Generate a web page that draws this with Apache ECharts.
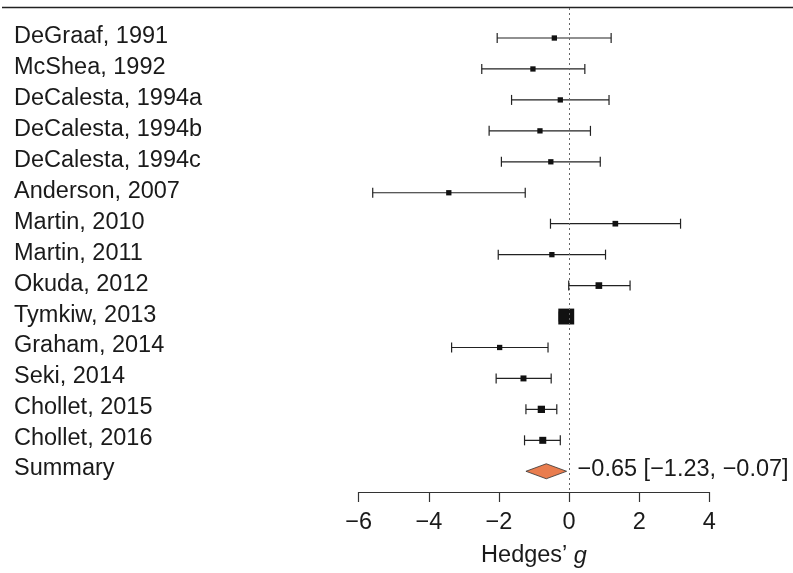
<!DOCTYPE html>
<html>
<head>
<meta charset="utf-8">
<script src="https://cdn.jsdelivr.net/npm/echarts@6/dist/echarts.min.js"></script>
<style>
  html, body { margin: 0; padding: 0; background: #fff; }
  #main { width: 793px; height: 573px; }
</style>
</head>
<body>
<div id="main"></div>
<script>
// study rows, top to bottom
const studies = ['DeGraaf, 1991', 'McShea, 1992', 'DeCalesta, 1994a', 'DeCalesta, 1994b', 'DeCalesta, 1994c',
  'Anderson, 2007', 'Martin, 2010', 'Martin, 2011', 'Okuda, 2012', 'Tymkiw, 2013', 'Graham, 2014',
  'Seki, 2014', 'Chollet, 2015', 'Chollet, 2016'];
const estimates = [-0.42, -1.03, -0.25, -0.83, -0.52, -3.43, 1.32, -0.49, 0.85, -0.08, -1.98, -1.30, -0.79, -0.75];
const lowerCI = [-2.05, -2.49, -1.64, -2.28, -1.93, -5.60, -0.53, -2.02, -0.01, -0.28, -3.35, -2.08, -1.23, -1.27];
const upperCI = [1.20, 0.45, 1.14, 0.61, 0.89, -1.25, 3.18, 1.04, 1.74, 0.12, -0.60, -0.51, -0.35, -0.25];
// relative box size (weight)
const weights = [1, 1, 1, 1, 1, 1, 1.07, 1, 1.26, 3, 1, 1.13, 1.38, 1.32];

const summaryName = 'Summary';
const summaryEst = -0.65;
const summaryLower = -1.23;
const summaryUpper = -0.07;

const xTicks = { min: -6, max: 4, step: 2 };

const FAMILY = '"Liberation Sans", Arial, sans-serif';
const FONT = '23.5px ' + FAMILY;
const INK = '#1a1a1a';
const fmt = v => v.toFixed(2).replace('-', '\u2212');

const chart = echarts.init(document.getElementById('main'));

function renderStudy(params, api) {
  const y = api.value(3);
  const c = api.coord([api.value(0), y]);
  const lo = api.coord([api.value(1), y]);
  const hi = api.coord([api.value(2), y]);
  const s = 5.3 * api.value(4);
  const line = { stroke: '#222', lineWidth: 1.2 };
  return {
    type: 'group',
    children: [
      { type: 'line', shape: { x1: lo[0], y1: c[1], x2: hi[0], y2: c[1] }, style: line },
      { type: 'line', shape: { x1: lo[0], y1: c[1] - 5, x2: lo[0], y2: c[1] + 5 }, style: line },
      { type: 'line', shape: { x1: hi[0], y1: c[1] - 5, x2: hi[0], y2: c[1] + 5 }, style: line },
      { type: 'rect', shape: { x: c[0] - s / 2, y: c[1] - s / 2, width: s, height: s }, style: { fill: '#111' } },
      { type: 'text', x: 14, y: c[1] - 1.5, style: { text: studies[params.dataIndex], font: FONT, fill: INK, verticalAlign: 'middle' } }
    ]
  };
}

function renderSummary(params, api) {
  const y = api.value(3);
  const c = api.coord([api.value(0), y]);
  const lo = api.coord([api.value(1), y]);
  const hi = api.coord([api.value(2), y]);
  const h = 7.5;
  return {
    type: 'group',
    children: [
      {
        type: 'polygon',
        shape: { points: [[lo[0], c[1]], [c[0], c[1] - h], [hi[0], c[1]], [c[0], c[1] + h]] },
        style: { fill: '#e97d4f', stroke: '#333', lineWidth: 0.8 }
      },
      { type: 'text', x: 14, y: c[1] - 3, style: { text: summaryName, font: FONT, fill: INK, verticalAlign: 'middle' } },
      {
        type: 'text', x: hi[0] + 11, y: c[1] - 1.5,
        style: {
          text: fmt(summaryEst) + ' [' + fmt(summaryLower) + ', ' + fmt(summaryUpper) + ']',
          font: FONT, fill: INK, verticalAlign: 'middle'
        }
      }
    ]
  };
}

chart.setOption({
  animation: false,
  grid: { left: 358.7, right: 83.7, top: 8, bottom: 78 },
  xAxis: {
    type: 'value',
    min: xTicks.min, max: xTicks.max, interval: xTicks.step,
    splitLine: { show: false },
    axisLine: { show: true, onZero: false, lineStyle: { color: '#333', width: 1.2 } },
    axisTick: { show: true, length: 10, lineStyle: { color: '#333', width: 1.2 } },
    axisLabel: {
      margin: 19, fontSize: 23.5, color: INK, fontFamily: FAMILY,
      formatter: v => String(v).replace('-', '\u2212')
    },
    name: '{a|Hedges\u2019 }{b|g}',
    nameLocation: 'middle',
    nameGap: 52,
    nameTextStyle: {
      rich: {
        a: { fontSize: 23.5, color: INK, fontFamily: FAMILY },
        b: { fontSize: 23.5, color: INK, fontStyle: 'italic', fontFamily: FAMILY }
      }
    }
  },
  yAxis: { type: 'value', min: -0.97, max: 14.67, inverse: true, show: false },
  graphic: [
    { type: 'line', shape: { x1: 2, y1: 7.5, x2: 793, y2: 7.5 }, style: { stroke: '#222', lineWidth: 1.3 } }
  ],
  series: [
    {
      type: 'custom',
      renderItem: renderStudy,
      encode: { x: [0, 1, 2], y: 3 },
      data: studies.map((s, i) => [estimates[i], lowerCI[i], upperCI[i], i, weights[i]]),
      markLine: {
        silent: true,
        symbol: 'none',
        label: { show: false },
        lineStyle: { type: [2, 3], color: '#666', width: 1 },
        data: [{ xAxis: 0 }]
      }
    },
    {
      type: 'custom',
      renderItem: renderSummary,
      encode: { x: [0, 1, 2], y: 3 },
      data: [[summaryEst, summaryLower, summaryUpper, studies.length]]
    }
  ]
});
</script>
</body>
</html>
